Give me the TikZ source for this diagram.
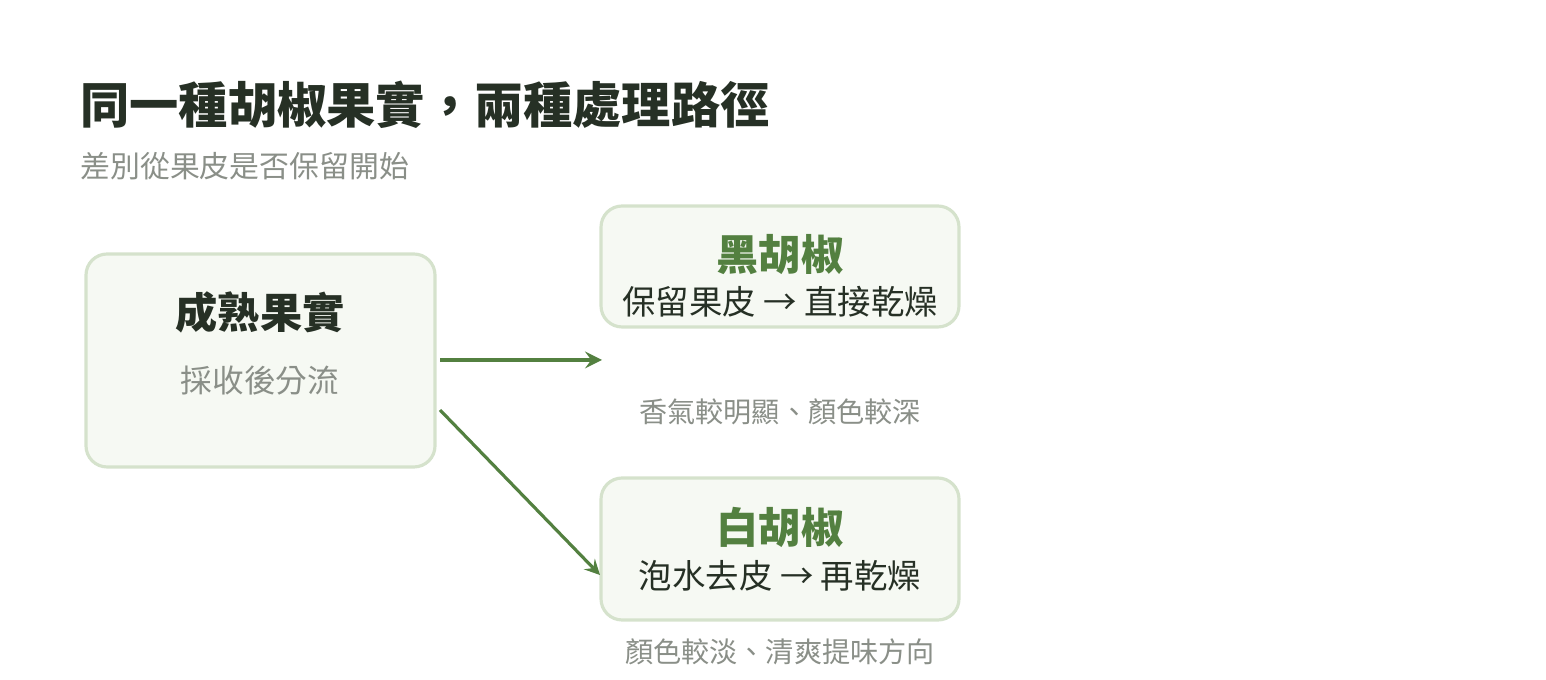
\documentclass[tikz,border=0pt]{standalone}
\usepackage{fontspec}
\setmainfont{Noto Sans CJK TC}
\usetikzlibrary{positioning}
\definecolor{ink}{HTML}{263025}
\definecolor{muted}{HTML}{8A8F88}
\definecolor{leaf}{HTML}{538040}
\definecolor{edge}{HTML}{D5E2CC}
\definecolor{paper}{HTML}{F6F9F3}
\tikzset{
  box/.style={draw=edge, fill=paper, line width=0.9pt, rounded corners=6pt}, % card
  flow/.style={->, >=stealth, draw=leaf, line width=1.1pt}, % green arrow
  note/.style={text=muted, font=\fontsize{8}{9}\selectfont},
}
\begin{document}
\begin{tikzpicture}[x=0.01cm, y=-0.01cm]
  \useasboundingbox (0,0) rectangle (1546,680);
  \node[anchor=west, text=ink, font=\fontsize{14}{16}\selectfont\bfseries] (title) at (68,105) {同一種胡椒果實，兩種處理路徑};
  \node[anchor=west, note, font=\fontsize{8.5}{10}\selectfont] (sub) at (68,166) {差別從果皮是否保留開始};

  \draw[box] (86,254) rectangle (435,467);
  \node[text=ink, font=\fontsize{12}{14}\selectfont\bfseries] (ripe) at (260,312) {成熟果實};
  \node[note, font=\fontsize{9}{11}\selectfont] (split) at (260,381) {採收後分流};

  \draw[box] (601,206) rectangle (959,327);
  \node[text=leaf, font=\fontsize{12}{14}\selectfont\bfseries] (black) at (780,255) {黑胡椒};
  \node[text=ink, font=\fontsize{9.5}{11}\selectfont] (blackstep) at (780,302) {保留果皮 → 直接乾燥};
  \node[note] (blacknote) at (780,412) {香氣較明顯、顏色較深};

  \draw[box] (601,478) rectangle (959,620);
  \node[text=leaf, font=\fontsize{12}{14}\selectfont\bfseries] (white) at (780,527) {白胡椒};
  \node[text=ink, font=\fontsize{9.5}{11}\selectfont] (whitestep) at (780,576) {泡水去皮 → 再乾燥};
  \node[note] (whitenote) at (780,652) {顏色較淡、清爽提味方向};

  \coordinate (out1) at (440,360);
  \coordinate (in1) at (602,360);
  \coordinate (out2) at (440,410);
  \coordinate (in2) at (600,575);
  \draw[flow] (out1) -- (in1);
  \draw[flow, line width=0.9pt] (out2) -- (in2);
\end{tikzpicture}
\end{document}
